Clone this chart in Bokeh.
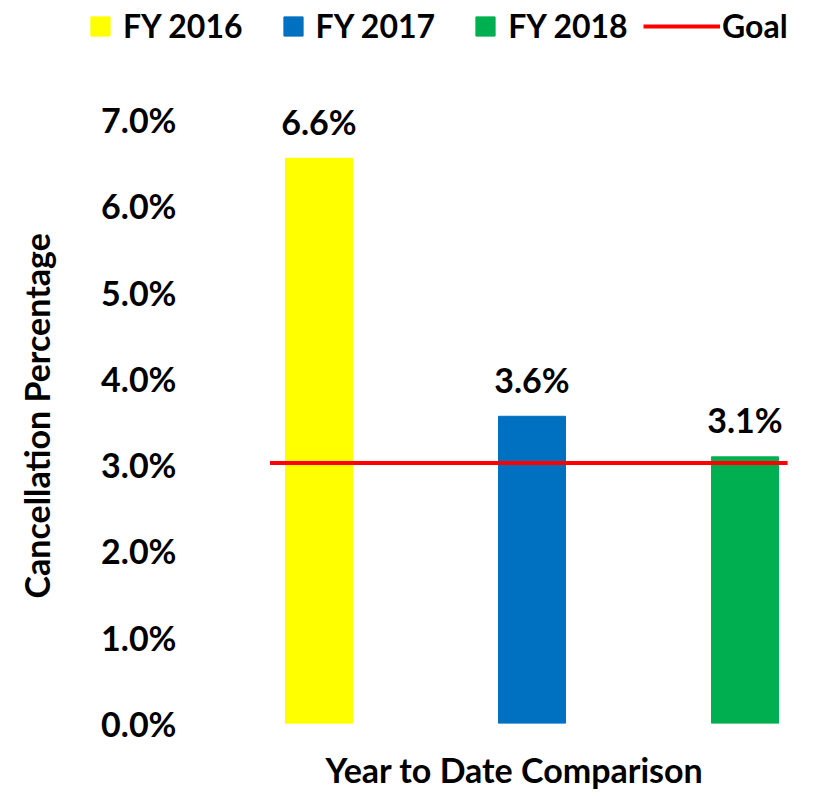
from bokeh.plotting import figure
from bokeh.models import (ColumnDataSource, Range1d, FixedTicker, PrintfTickFormatter,
                          Legend, LegendItem, Title)
from bokeh.core.properties import value
from bokeh.embed import file_html
from bokeh.resources import INLINE

# ---- data ----
categories = ["FY 2016", "FY 2017", "FY 2018"]
values = [6.55, 3.56, 3.09]
labels = ["6.6%", "3.6%", "3.1%"]
colors = ["#FFFF00", "#0070C0", "#00B050"]
goal = 3.02
goal_label = "Goal"
y_ticks = [0, 1, 2, 3, 4, 5, 6, 7]
x_title = "Year to Date Comparison"
y_title = "Cancellation Percentage"

FONT = "Lato"
positions = [i + 1 for i in range(len(categories))]

src = ColumnDataSource(dict(x=positions, top=values, color=colors, label=labels, cat=categories))
goal_src = ColumnDataSource(dict(x=[positions[0] - 0.23, positions[-1] + 0.2], y=[goal, goal]))

# ---- chart ----
p = figure(width=800, height=796, output_backend="svg", toolbar_location=None,
           frame_width=732, frame_height=723,
           x_range=Range1d(-0.1761, 3.2606), y_range=Range1d(0, 8.378),
           min_border_left=68, min_border_right=0, min_border_top=0, min_border_bottom=73)
p.outline_line_color = None
p.xgrid.visible = False
p.ygrid.visible = False

bars = p.vbar(x="x", top="top", width=67 / 213, color="color", source=src)

p.text(x="x", y="top", text="label", source=src, y_offset=-37,
       text_align="center", text_baseline="alphabetic",
       text_font=value(FONT), text_font_style="bold", text_font_size="34px", text_color="black")

goal_r = p.line(x="x", y="y", source=goal_src, line_color="#FF0000", line_width=4)

p.yaxis.ticker = FixedTicker(ticks=y_ticks)
p.yaxis.formatter = PrintfTickFormatter(format="%.1f%%")
p.yaxis.axis_line_color = None
p.yaxis.major_tick_line_color = None
p.yaxis.minor_tick_line_color = None
p.yaxis.major_tick_out = 0
p.yaxis.major_tick_in = 0
p.yaxis.major_label_standoff = -108
p.yaxis.major_label_text_font = FONT
p.yaxis.major_label_text_font_style = "bold"
p.yaxis.major_label_text_font_size = "34px"
p.yaxis.major_label_text_color = "black"

yt = Title(text=y_title, align="left", offset=125, text_font=FONT, text_font_style="bold",
           text_font_size="34px", text_color="black", standoff=24)
p.add_layout(yt, "left")

p.xaxis.visible = False
xt = Title(text=x_title, align="left", offset=257, text_font=FONT, text_font_style="bold",
           text_font_size="34px", text_color="black", standoff=46)
p.add_layout(xt, "below")


def style_legend(leg, gw):
    leg.orientation = "horizontal"
    leg.glyph_width = gw
    leg.glyph_height = 24
    leg.padding = 0
    leg.margin = 0
    leg.border_line_color = None
    leg.background_fill_alpha = 0
    leg.label_text_font = FONT
    leg.label_text_font_style = "bold"
    leg.label_text_font_size = "32px"
    leg.label_text_color = "black"


leg_bars = Legend(items=[LegendItem(label=c, renderers=[bars], index=i) for i, c in enumerate(categories)],
                  location=(20, 678))
style_legend(leg_bars, 24)
leg_bars.label_standoff = 11
leg_bars.spacing = 38
p.add_layout(leg_bars, "center")

leg_goal = Legend(items=[LegendItem(label=goal_label, renderers=[goal_r])], location=(575, 678))
style_legend(leg_goal, 77)
leg_goal.label_standoff = 2
p.add_layout(leg_goal, "center")

open("out.html", "w").write(file_html(p, INLINE))
